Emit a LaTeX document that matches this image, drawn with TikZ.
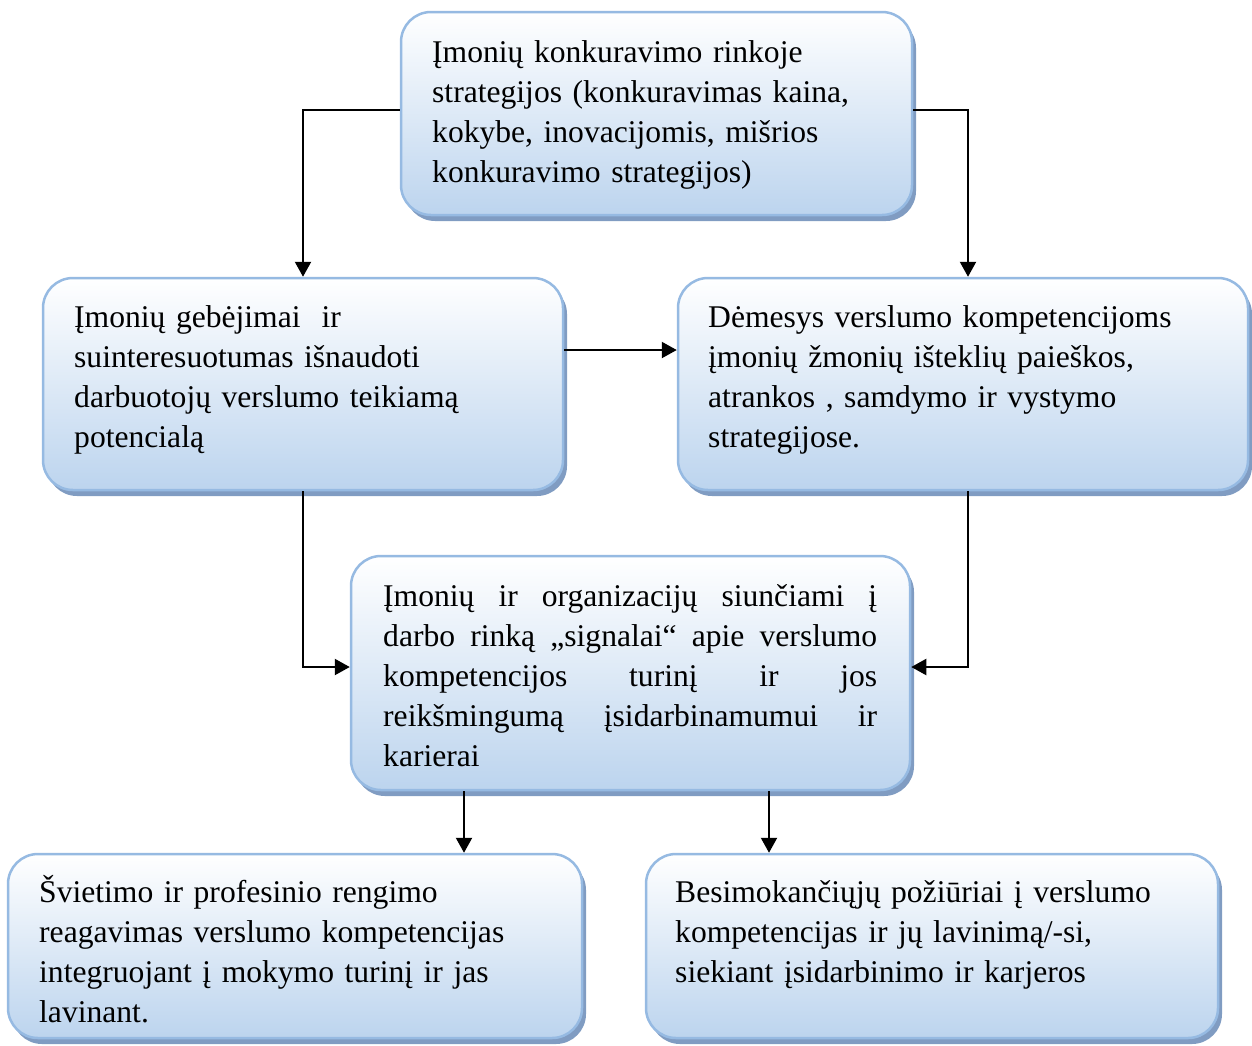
\documentclass[tikz,border=0pt]{standalone}
\usepackage{fontspec}
\setmainfont{Liberation Serif}
\usetikzlibrary{arrows.meta,shadows}

\definecolor{boxblue}{RGB}{188,212,238}
\definecolor{boxline}{RGB}{150,186,226}
\definecolor{boxshade}{RGB}{128,156,194}

\begin{document}
\begin{tikzpicture}[x=1pt,y=-1pt,font=\fontsize{31.6}{40}\selectfont,
  box/.style={draw=boxline, line width=2.5pt, rounded corners=30pt,
    top color=white, bottom color=boxblue, middle color=boxblue!50!white,
    drop shadow={shadow xshift=4pt, shadow yshift=-6pt, fill=boxshade, opacity=1},
    inner sep=0pt},
  txt/.style={anchor=base west, inner sep=0pt, text width=#1, align=left},
  arr/.style={line width=2.2pt, -{Triangle[length=15pt,width=16pt]}}]

\useasboundingbox (0,0) rectangle (1252,1045);

\begin{scope}
\coordinate (lx) at (303,0);
\coordinate (rx) at (968,0);

\node[box, minimum width=511pt, minimum height=203pt] (strat) at (656.5,113.5) {};
\node[box, minimum width=520pt, minimum height=212pt] (gebej) at (303,384) {};
\node[box, minimum width=570pt, minimum height=212pt] (demes) at (963,384) {};
\node[box, minimum width=559pt, minimum height=234pt] (signal) at (630.5,673) {};
\node[box, minimum width=574pt, minimum height=184pt] (svietim) at (295,946) {};
\node[box, minimum width=572pt, minimum height=184pt] (besim) at (932,946) {};

\node[txt=470pt] (strat-t) at (432,62) {Įmonių konkuravimo rinkoje\\
  strategijos (konkuravimas kaina,\\ kokybe, inovacijomis, mišrios\\
  konkuravimo strategijos)};
\node[txt=480pt] (gebej-t) at (74,327) {Įmonių gebėjimai\ \ ir\\
  suinteresuotumas išnaudoti\\ darbuotojų verslumo teikiamą\\ potencialą};
\node[txt=520pt] (demes-t) at (708,327) {Dėmesys verslumo kompetencijoms\\
  įmonių žmonių išteklių paieškos,\\ atrankos , samdymo ir vystymo\\
  strategijose.};
\node[txt=494pt, align=justify] (signal-t) at (383,606) {Įmonių ir organizacijų
  siunčiami į\linebreak darbo rinką „signalai“ apie verslumo\linebreak
  kompetencijos turinį ir jos\linebreak reikšmingumą įsidarbinamumui
  ir\linebreak karierai};
\node[txt=530pt] (svietim-t) at (39,902) {Švietimo ir profesinio rengimo\\
  reagavimas verslumo kompetencijas\\ integruojant į mokymo turinį ir jas\\
  lavinant.};
\node[txt=530pt] (besim-t) at (675,902) {Besimokančiųjų požiūriai į verslumo\\
  kompetencijas ir jų lavinimą/-si,\\ siekiant įsidarbinimo ir karjeros};

\draw[arr] (strat.west |- 0,110) -| (gebej.north -| lx);
\draw[arr] (strat.east |- 0,110) -| (demes.north -| rx);
\draw[arr] (gebej.east |- 0,350) -- (demes.west |- 0,350);
\draw[arr] (gebej.south -| lx) |- (signal.west |- 0,667);
\draw[arr] (demes.south -| rx) |- (signal.east |- 0,667);
\draw[arr] (signal.south -| 464,0) -- (svietim.north -| 464,0);
\draw[arr] (signal.south -| 769,0) -- (besim.north -| 769,0);
\end{scope}

\end{tikzpicture}
\end{document}
